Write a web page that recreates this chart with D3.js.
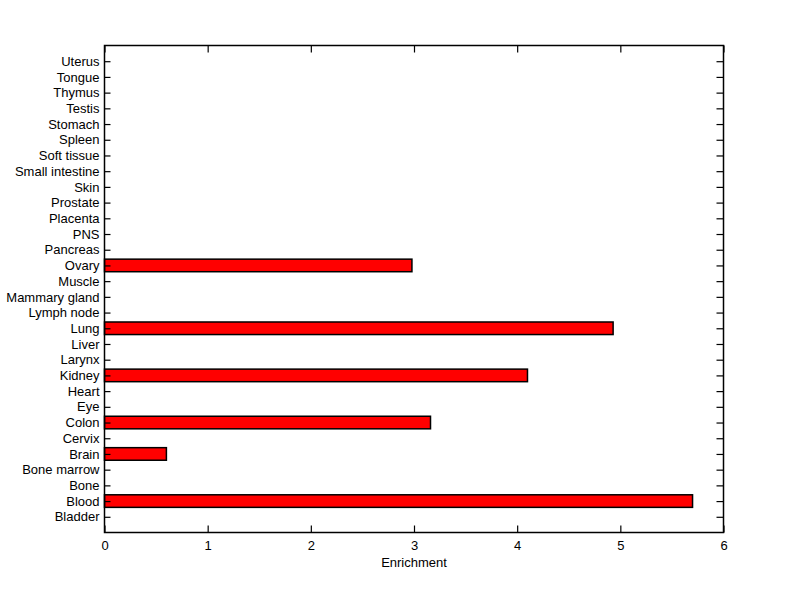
<!DOCTYPE html>
<html><head><meta charset="utf-8">
<script src="https://cdn.jsdelivr.net/npm/d3@7"></script>
<style>body{margin:0;background:#fff}svg{display:block}text{font-family:Arial,"Liberation Sans",sans-serif;font-size:13px;fill:#000}</style>
</head><body><svg id="c" width="800" height="599"></svg>
<script>
const categories = ["Bladder","Blood","Bone","Bone marrow","Brain","Cervix","Colon","Eye","Heart","Kidney","Larynx","Liver","Lung","Lymph node","Mammary gland","Muscle","Ovary","Pancreas","PNS","Placenta","Prostate","Skin","Small intestine","Soft tissue","Spleen","Stomach","Testis","Thymus","Tongue","Uterus"];
const values = [0,5.70,0,0,0.60,0,3.16,0,0,4.10,0,0,4.93,0,0,0,2.98,0,0,0,0,0,0,0,0,0,0,0,0,0];
const xTicks = [0,1,2,3,4,5,6];
const xLabel = "Enrichment";

const svg = d3.select("#c");
const L=104.5, R=723.5, T=45.5, B=532.5;
const x = d3.scaleLinear().domain([0,6]).range([L,R]);
const y = d3.scaleLinear().domain([0,categories.length+1]).range([B,T]);
const barH = (y(0)-y(1))*0.8;

svg.append("rect").attr("x",L).attr("y",T).attr("width",R-L).attr("height",B-T).attr("fill","#fff");

svg.selectAll("rect.bar").data(categories.map((c,i)=>({c,v:values[i],i})).filter(d=>d.v>0))
  .enter().append("rect").attr("class","bar")
  .attr("x",x(0)).attr("y",d=>y(d.i+1)-barH/2)
  .attr("width",d=>x(d.v)-x(0)).attr("height",barH)
  .attr("fill","#ff0000").attr("stroke","#000").attr("stroke-width",1.5);

const yPos = categories.map((c,i)=>i+1);
const bx = svg.append("g").attr("transform",`translate(0,${B})`)
  .call(d3.axisBottom(x).tickValues(xTicks).tickFormat(d3.format("d")).tickSizeInner(-7).tickSizeOuter(0).tickPadding(8));
const tx = svg.append("g").attr("transform",`translate(0,${T})`)
  .call(d3.axisTop(x).tickValues(xTicks).tickFormat("").tickSizeInner(-7).tickSizeOuter(0));
const ly = svg.append("g").attr("transform",`translate(${L},0)`)
  .call(d3.axisLeft(y).tickValues(yPos).tickFormat(d=>categories[d-1]).tickSizeInner(-6).tickSizeOuter(0).tickPadding(5));
const ry = svg.append("g").attr("transform",`translate(${R},0)`)
  .call(d3.axisRight(y).tickValues(yPos).tickFormat("").tickSizeInner(-7).tickSizeOuter(0));
[bx,tx,ly,ry].forEach(g=>{
  g.selectAll(".domain").remove();
  g.selectAll("line").attr("stroke","#000").attr("stroke-width",1.2);
  g.selectAll("text").attr("font-family","Arial, 'Liberation Sans', sans-serif").attr("font-size",13).attr("fill","#000");
});
svg.append("rect").attr("x",L).attr("y",T).attr("width",R-L).attr("height",B-T)
  .attr("fill","none").attr("stroke","#000").attr("stroke-width",1.5);

svg.append("text").attr("x",(L+R)/2).attr("y",567).attr("text-anchor","middle").text(xLabel);
</script></body></html>
